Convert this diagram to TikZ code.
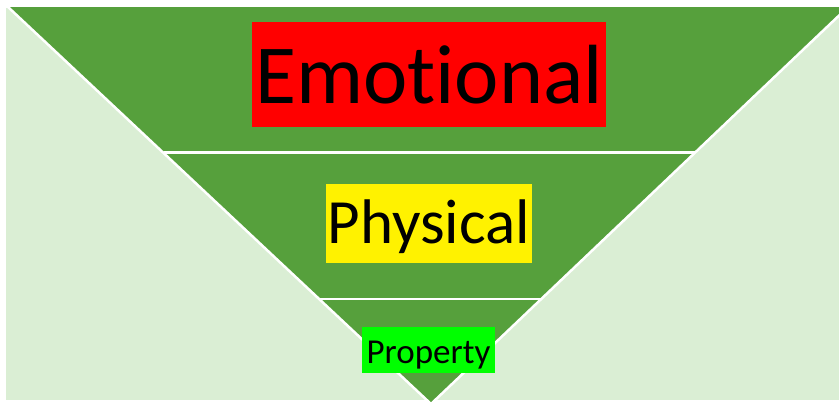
\documentclass[tikz,border=0pt]{standalone}
\usepackage{fontspec}
\setmainfont{Carlito}[Ligatures=NoCommon]
\definecolor{bgLight}{RGB}{218,238,212}
\definecolor{darkGreen}{RGB}{86,160,60}
\definecolor{propGreen}{RGB}{0,255,0}
\begin{document}
\begin{tikzpicture}[x=1pt,y=-1pt,
  sep/.style={draw=white,line width=2.5pt},
  label/.style={inner sep=0pt,text=black,text depth=0pt,align=center}]
\useasboundingbox (0,0) rectangle (839,402);
\fill[white] (0,0) rectangle (839,402);
\fill[bgLight] (6,7.5) rectangle (839,399.5);
\begin{scope}
\clip (0,0) rectangle (839,402);
\coordinate (tl) at (8,7);
\coordinate (tr) at (848,7);
\coordinate (ap) at (431,404);
\fill[darkGreen] (tl) -- (tr) -- (ap) -- cycle;
\draw[sep] (tl) -- (ap) -- (tr);
\draw[sep] (164,152.5) -- (694.5,152.5);
\draw[sep] (319,299) -- (541,299);
\end{scope}
\node[label,fill=red,minimum width=354pt,minimum height=105pt,text height=57pt,
  font=\fontsize{84pt}{84pt}\selectfont] (emo) at (429,74.5) {Emotional};
\node[label,fill=yellow,minimum width=206pt,minimum height=79pt,text height=39pt,
  font=\fontsize{63pt}{63pt}\selectfont] (phy) at (429,223.5) {Physical};
\node[label,fill=propGreen,minimum width=133pt,minimum height=46pt,text height=26pt,
  font=\fontsize{35pt}{35pt}\selectfont] (pro) at (428.5,350) {Property};
\end{tikzpicture}
\end{document}
